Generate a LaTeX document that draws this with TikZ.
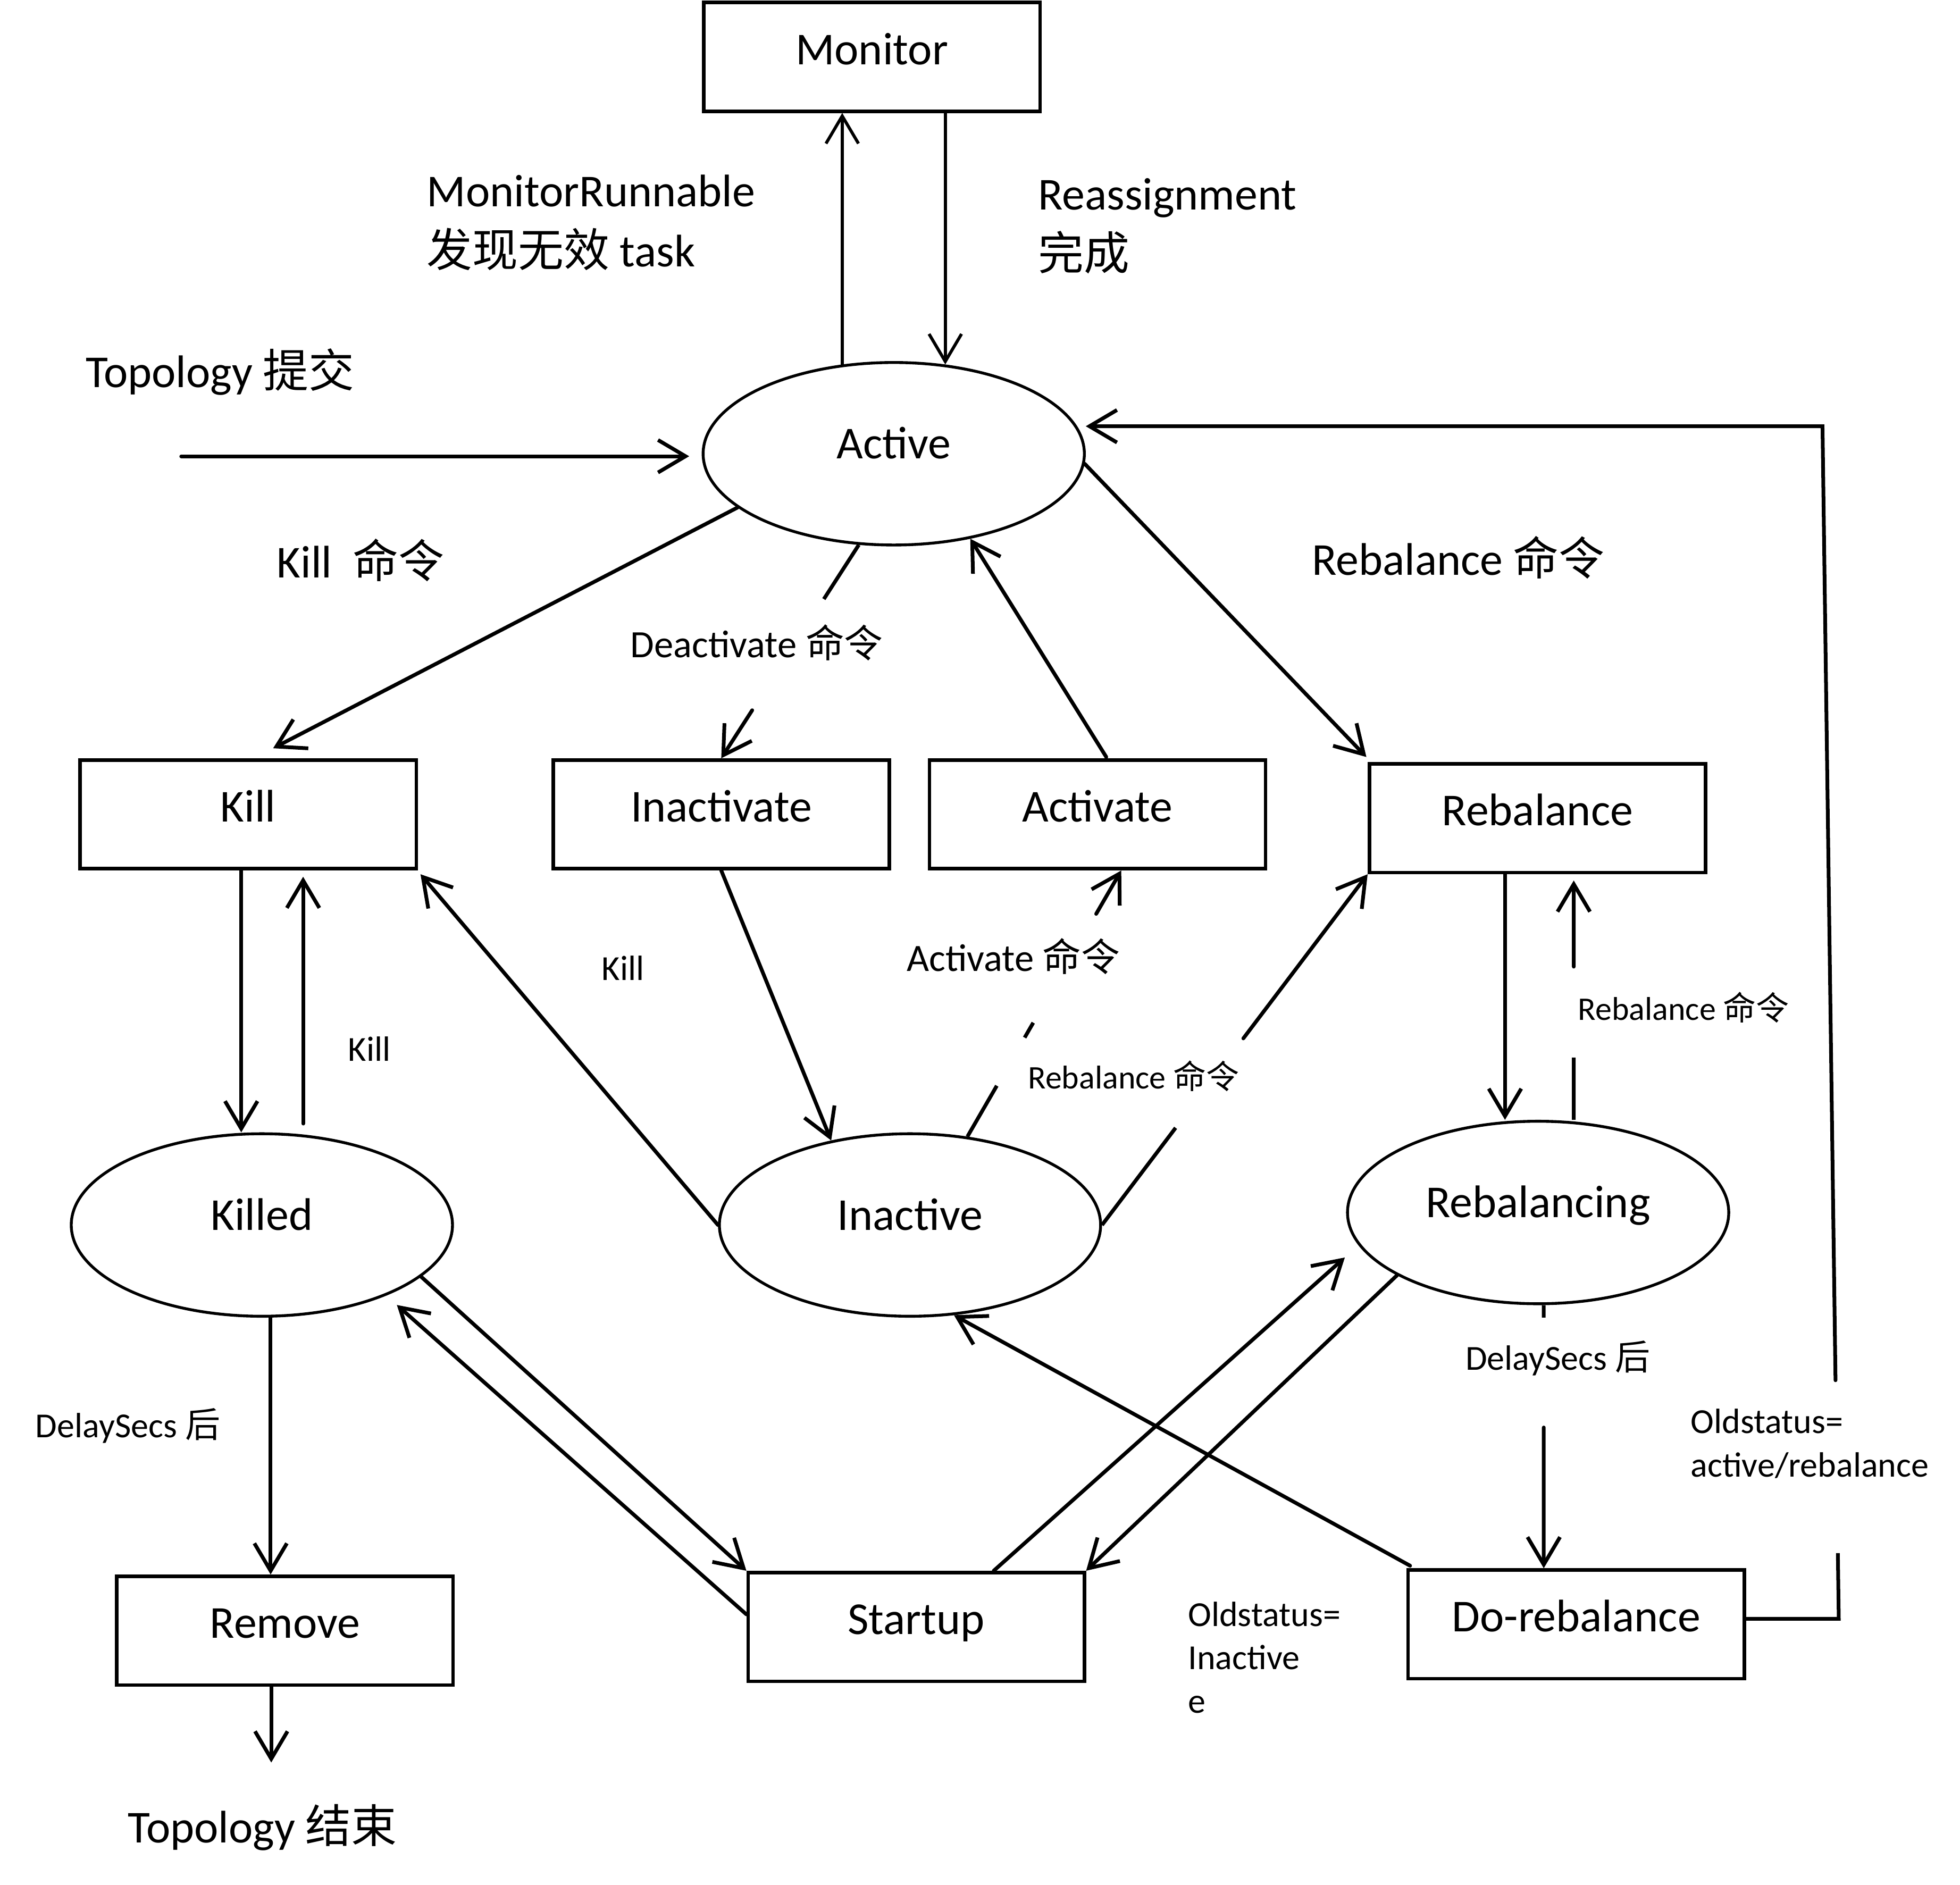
\documentclass[tikz,border=0pt]{standalone}
\usepackage{fontspec}
\setmainfont{Carlito}
\newfontfamily\cjk{Noto Sans CJK SC}
\newcommand{\zh}[1]{{\cjk #1}}
\usetikzlibrary{shapes.geometric,arrows.meta,calc}
\tikzstyle{box}=[draw,line width=0.8pt,minimum width=26.9mm,minimum height=8.7mm,inner sep=0pt,font=\fontsize{10.4pt}{13.7pt}\selectfont,text height=2.4mm,text depth=1.2mm]
\tikzstyle{state}=[draw,ellipse,line width=0.65pt,minimum width=30.5mm,minimum height=14.6mm,font=\fontsize{10.4pt}{13.7pt}\selectfont,text height=2.4mm,text depth=1.6mm]
\tikzstyle{arr}=[-{Straight Barb[length=2.2mm,width=2.6mm]},line width=0.85pt,line cap=round]
\tikzstyle{big}=[inner sep=0pt,font=\fontsize{10.4pt}{13.7pt}\selectfont]
\tikzstyle{cmd}=[inner sep=0pt,font=\fontsize{8.8pt}{11pt}\selectfont]
\tikzstyle{note}=[inner sep=0pt,font=\fontsize{8pt}{9.9pt}\selectfont]
\tikzstyle{fine}=[inner sep=0pt,font=\fontsize{7.5pt}{9pt}\selectfont]

\begin{document}
\begin{tikzpicture}[x=0.1mm,y=-0.1mm,line width=0.85pt]
\useasboundingbox (0,0) rectangle (1568,1508);
\foreach \place/\name/\txt in {{(697.5,45.5)/Monitor/Monitor}, {(198.5,651.5)/Kill/Kill},
  {(577,651.5)/Inactivate/Inactivate}, {(878,651.5)/Activate/Activate},
  {(1230,654.5)/Rebalance/Rebalance}, {(228,1304.5)/Remove/Remove},
  {(733,1301.5)/Startup/Startup}, {(1261,1299.5)/Dorebalance/Do-rebalance}}
    \node[box] (\name) at \place {\txt};
\foreach \place/\name in {{(715,363)/Active}, {(209.5,980)/Killed}, {(728,980)/Inactive},
  {(1230.5,970)/Rebalancing}}
    \node[state] (\name) at \place {\name};

\coordinate (submit) at (145,365);
\coordinate (finish) at (217,1410);
\coordinate (ob) at (1471,1295);
\coordinate (ot) at (1458,341);
\coordinate (actin) at ($(Activate.south)+(19,0)$);
\coordinate (rbdown) at ($(Rebalance.south)+(-26,0)$);
\coordinate (rbup) at ($(Rebalance.south)+(29,5)$);
\coordinate (rbfoot) at (rbup |- Rebalancing.north);
\coordinate (dodown) at ($(Dorebalance.north)+(-26,0)$);
\coordinate (dotop) at (dodown |- Rebalancing.south);
\coordinate (kdown) at ($(Kill.south)+(-5.5,0)$);
\coordinate (kup) at ($(Kill.south)+(44,5)$);
\coordinate (rmdown) at ($(Killed.south)+(7,0)$);

\draw[arr] (submit) -- ($(submit -| Active.west)+(-10,0)$);
\draw[arr,line width=0.7pt] (Active.120) -- (Active.120 |- Monitor.south);
\draw[arr,line width=0.7pt] (Active.60 |- Monitor.south) -- (Active.60);
\draw[arr] (Active.199) -- ($(Kill.north)+(20,-8)$);
\draw[arr] ($(Activate.north)+(7,-1)$) -- (Active.312);
\draw[arr] (Active.357) -- ($(Rebalance.north west)+(-1,-4)$);
\draw[arr] (kdown) -- (kdown |- Killed.north);
\draw[arr] ($(Killed.north)+(33,-7)$) -- (kup);
\draw[arr] (Inactive.west) -- ($(Kill.south east)+(2,3)$);
\draw[arr] (rbdown) -- (rbdown |- Rebalancing.north);
\draw[arr] (rmdown) -- (rmdown |- Remove.north);
\draw[arr] (Remove.south -| finish) -- (finish);
\draw[arr] ($(Startup.west)+(0,-10)$) -- ($(Killed.center)+(108,64)$);
\draw[arr] ($(Startup.north)+(62,0)$) -- ($(Rebalancing.west)+(-1,36)$);
\draw[arr] ($(Dorebalance.north west)+(3,-2)$) -- (Inactive.296);
\foreach \source/\dest in {Inactivate.south/Inactive.133, Killed.342/Startup.north west,
  Rebalancing.204/Startup.north east}
    \draw[arr] (\source) -- (\dest);

\draw (Active.249) -- ($(Active.249)!0.254!(Inactivate.north)$);
\draw[arr] ($(Active.249)!0.775!(Inactivate.north)$) -- (Inactivate.north);
\draw (Inactive.57) -- ($(Inactive.57)!0.191!(actin)$);
\draw ($(Inactive.57)!0.372!(actin)$) -- ($(Inactive.57)!0.428!(actin)$);
\draw[arr] ($(Inactive.57)!0.837!(actin)$) -- (actin);
\draw (Inactive.east) -- ($(Inactive.east)!0.277!(Rebalance.south west)$);
\draw[arr] ($(Inactive.east)!0.532!(Rebalance.south west)$) -- (Rebalance.south west);
\draw (rbfoot) -- ($(rbfoot)!0.26!(rbup)$);
\draw[arr] ($(rbfoot)!0.64!(rbup)$) -- (rbup);
\draw (dotop) -- ($(dotop)!0.047!(dodown)$);
\draw[arr] ($(dotop)!0.465!(dodown)$) -- (dodown);
\draw (Dorebalance.east |- ob) -- (ob) -- ($(ob)!0.055!(ot)$);
\draw[arr] ($(ob)!0.2!(ot)$) -- (ot) -- (ot -| Active.east);

\node[big,anchor=west,align=left] at (340,178) {MonitorRunnable\\\zh{发现无效} task};
\node[big,anchor=west,align=left] at (829,181) {Reassignment\\\zh{完成}};
\node[big,anchor=base west] at (67,310) {Topology \zh{提交}};
\node[big,anchor=base west] at (220,462) {Kill~~\zh{命令}};
\node[big,anchor=base west] at (1048,460) {Rebalance \zh{命令}};
\node[big,anchor=base west] at (101,1474) {Topology \zh{结束}};
\node[cmd,anchor=base west] at (503,526) {Deactivate \zh{命令}};
\node[cmd,anchor=base west] at (724,777) {Activate \zh{命令}};
\node[fine,anchor=base west] at (821,871) {Rebalance \zh{命令}};
\node[fine,anchor=base west] at (1261,816) {Rebalance \zh{命令}};
\node[note,anchor=base west] at (277,849) {Kill};
\node[note,anchor=base west] at (480,784) {Kill};
\node[note,anchor=base west] at (27,1150) {DelaySecs \zh{后}};
\node[note,anchor=base west] at (1171,1096) {DelaySecs \zh{后}};
\node[note,anchor=west,align=left] at (1351,1155) {Oldstatus=\\active/rebalance};
\node[note,anchor=west,align=left] at (949,1326) {Oldstatus=\\Inactive\\e};
\end{tikzpicture}
\end{document}
